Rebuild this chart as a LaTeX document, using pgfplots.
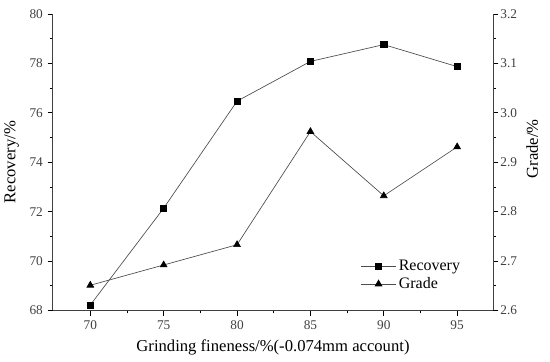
\documentclass[border=0pt]{standalone}
\usepackage{pgfplots}
\pgfplotsset{compat=1.18}
\usepackage{fontspec}
\setmainfont{Liberation Serif}
\begin{document}
\begin{tikzpicture}
\pgfplotsset{
  common/.style={
    scale only axis, width=330.75pt, height=222.75pt,
    at={(0,0)}, anchor=south west,
    xmin=67.45, xmax=97.45,
    xtick={70,75,80,85,90,95},
    minor x tick num=1,
    tick align=outside,
    major tick length=4pt, minor tick length=2.2pt,
    tick style={black, line width=0.5pt},
    axis line style={line width=0.6pt, black!75},
    ticklabel style={font=\fontsize{10}{12}\selectfont, text=black!75},
    label style={font=\fontsize{12.5}{14}\selectfont},
    /pgf/number format/assume math mode=true,
  },
  ser/.style={line width=0.5pt, color=black!70, mark options={fill=black, draw=black, solid}},
}
\begin{axis}[common,
  ymin=68, ymax=80, ytick={68,70,...,80}, minor y tick num=1,
  axis y line*=left, axis x line*=bottom,
  xlabel={Grinding fineness/\%(-0.074mm account)},
  ylabel={Recovery/\%},
  xlabel style={yshift=-1pt},
  ylabel style={yshift=1pt},
]
\addplot[ser, mark=square*, mark size=2.3pt] coordinates {
(70,68.22) (75,72.14) (80,76.47) (85,78.08) (90,78.76) (95,77.87)};
\end{axis}
\begin{axis}[common,
  ymin=2.6, ymax=3.2, ytick={2.6,2.7,...,3.2}, minor y tick num=1,
  axis y line*=right, axis x line=none,
  yticklabel style={xshift=-2pt, /pgf/number format/.cd, fixed, fixed zerofill, precision=1},
  ylabel={Grade/\%},
  ylabel style={xshift=10pt},
  legend style={at={(0.69,0.19)}, anchor=north west, draw=none, fill=none,
    font=\fontsize{12}{13}\selectfont, row sep=0pt},
  legend image code/.code={\draw[mark repeat=2,mark phase=2,#1] plot coordinates {(0pt,0pt) (13pt,0pt) (26pt,0pt)};},
  legend cell align=left,
]
\addlegendimage{ser, mark=square*, mark size=2.3pt}
\addlegendentry{Recovery}
\addplot[ser, mark=triangle*, mark size=2.9pt] coordinates {
(70,2.651) (75,2.692) (80,2.733) (85,2.962) (90,2.832) (95,2.931)};
\addlegendentry{Grade}
\end{axis}
\path (-39pt,-38.25pt) rectangle (373.5pt,233.25pt);
\end{tikzpicture}
\end{document}
